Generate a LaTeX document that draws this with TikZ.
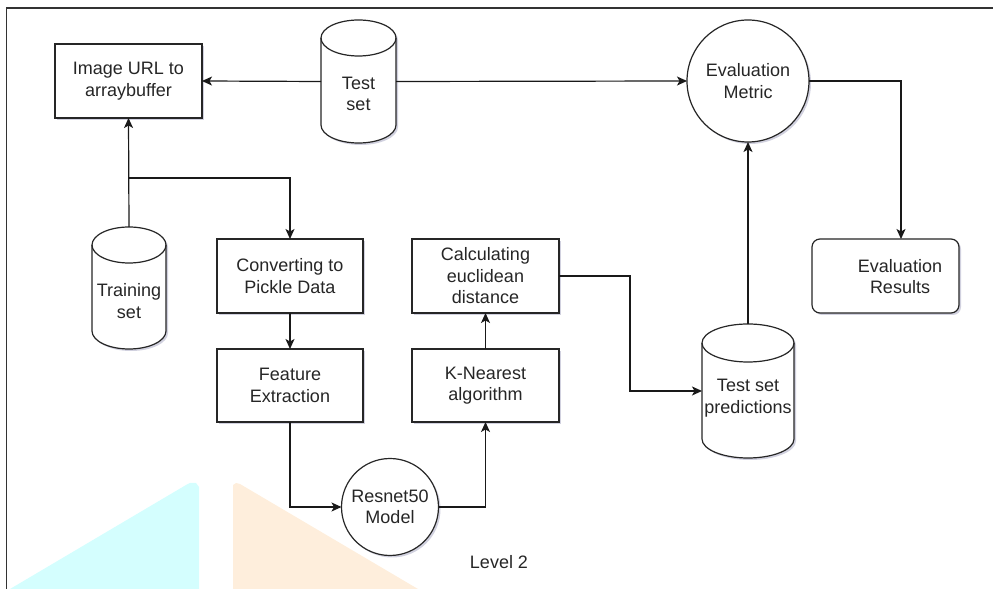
\documentclass[tikz,border=0pt]{standalone}
\usepackage{fontspec}
\setmainfont{Liberation Sans}
\usetikzlibrary{arrows.meta,shadows}
\definecolor{bgcyan}{RGB}{212,254,254}
\definecolor{bgpeach}{RGB}{254,238,220}
\newcommand\mycyl[3]{%
  \draw[cylstyle] ([yshift=-#3]#1.north west) -- ([yshift=#3]#1.south west)
    arc[start angle=180,end angle=360,x radius=#2,y radius=#3]
    -- ([yshift=-#3]#1.north east)
    arc[start angle=0,end angle=180,x radius=#2,y radius=#3] -- cycle;
  \draw[cylline] ([yshift=-#3]#1.north west)
    arc[start angle=180,end angle=360,x radius=#2,y radius=#3];
}
\begin{document}
\begin{tikzpicture}[x=1pt,y=1pt,
  font=\fontsize{18}{21.5}\selectfont,
  txt/.style={text=black!85, align=center, inner sep=0pt},
  shad/.style={drop shadow={shadow xshift=2pt,shadow yshift=-2pt,fill=blue!30!black,opacity=0.18}},
  box/.style={rectangle, draw=black!85, line width=1.2pt, fill=white, shad, minimum width=147pt, minimum height=74pt, txt, outer sep=0pt},
  circ/.style={circle, draw=black!85, line width=1.2pt, fill=white, shad, txt, outer sep=0pt},
  hold/.style={rectangle, draw=none, inner sep=0pt, outer sep=0pt},
  cylstyle/.style={draw=black!85, line width=1.2pt, fill=white, shad},
  cylline/.style={draw=black!85, line width=1.2pt},
  link/.style={draw=black!90, line width=1.2pt},
  arr/.style={link, -{Stealth[length=10pt,width=9pt,inset=2.5pt]}}
]
\useasboundingbox (0,0) rectangle (993,589);
% background triangles
\fill[bgcyan] (10,0) -- (186,104) -- (190,106) -- (196,106) -- (199,102) -- (199,0) -- cycle;
\fill[bgpeach] (233,0) -- (233,104) -- (236,106) -- (240,105) -- (418,0) -- cycle;
% frame
\draw[black!80, line width=1.2pt] (6.5,0) -- (6.5,581) -- (993,581);

% nodes
\node[box] (img) at (128.5,508) {Image URL to\\arraybuffer};
\node[box, minimum width=146pt] (conv) at (290,313) {Converting to\\Pickle Data};
\node[box, minimum width=146pt, minimum height=73pt] (feat) at (290,203.5) {Feature\\Extraction};
\node[box] (calc) at (485.5,313) {Calculating\\euclidean\\distance};
\node[box, minimum height=73pt] (knn) at (485.5,203.5) {K-Nearest\\algorithm};
\node[circ, minimum size=97pt] (res50) at (390,82) {Resnet50\\Model};
\node[circ, minimum size=122pt] (eval) at (748,508) {Evaluation\\Metric};
\node[box, rounded corners=8pt] (res) at (885.5,313) {};
\node[txt] (restext) at (900,312.5) {Evaluation\\Results};

\node[hold, minimum width=75pt, minimum height=123pt] (test) at (358.5,507.5) {};
\mycyl{test}{37.5pt}{18pt}
\node[txt] (testtext) at (358.5,495) {Test\\set};

\node[hold, minimum width=74pt, minimum height=122pt] (train) at (129,301) {};
\mycyl{train}{37pt}{18pt}
\node[txt] (traintext) at (129,288) {Training\\set};

\node[hold, minimum width=92pt, minimum height=134pt] (pred) at (748,198) {};
\mycyl{pred}{46pt}{19pt}
\node[txt] (predtext) at (748,191) {Test set\\predictions};

\node[txt] (level) at (499,27) {Level 2};

% connectors
\coordinate (br) at (129,411);
\coordinate (c1) at (630,313);
\coordinate (rtop) at (901,350);
\draw[arr] (test.west) -- (img.east);
\draw[arr] (test.east) -- (eval.west);
\draw[arr] (train.north) -- (img.south);
\draw[arr] (br) -| (conv.north);
\draw[arr] (conv.south) -- (feat.north);
\draw[arr] (feat.south) |- (res50.west);
\draw[arr] (res50.east) -| (knn.south);
\draw[arr] (knn.north) -- (calc.south);
\draw[arr] (calc.east) -- (c1) |- (pred.west);
\draw[arr] (pred.north) -- (eval.south);
\draw[arr] (eval.east) -| (rtop);
\end{tikzpicture}
\end{document}
